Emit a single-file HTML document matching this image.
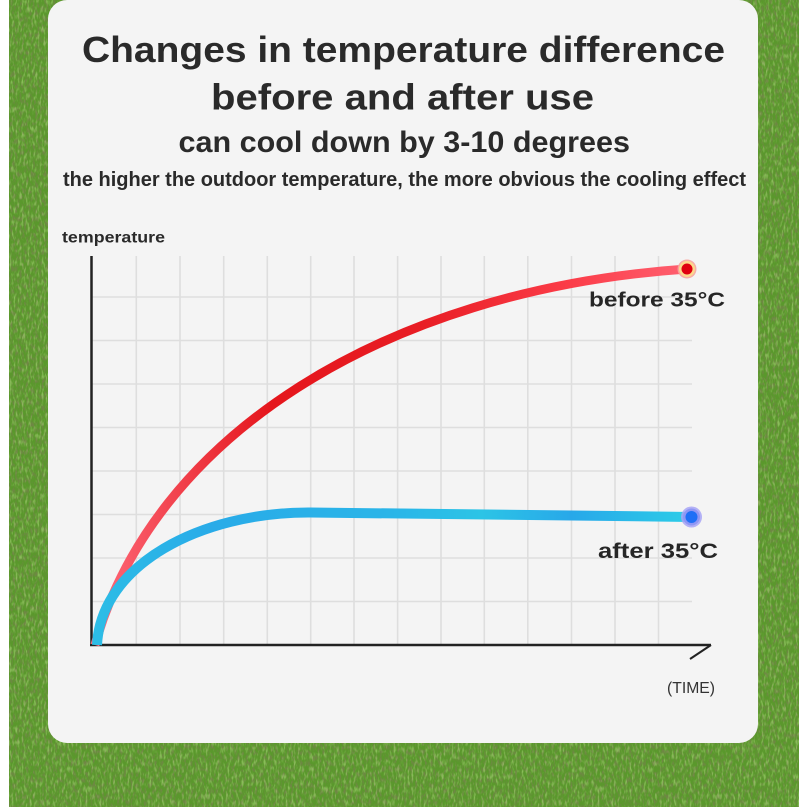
<!DOCTYPE html>
<html>
<head>
<meta charset="utf-8">
<style>
  html,body{margin:0;padding:0;background:#fff;}
  svg{display:block;}
  text{font-family:"Liberation Sans","DejaVu Sans",sans-serif;}
</style>
</head>
<body>
<svg width="807" height="807" viewBox="0 0 807 807" xmlns="http://www.w3.org/2000/svg">
  <defs>
    <filter id="dark" x="0" y="0" width="100%" height="100%">
      <feTurbulence type="fractalNoise" baseFrequency="0.45 0.18" numOctaves="3" seed="7" result="n"/>
      <feColorMatrix type="matrix" in="n" values="
        0 0 0 0 0.16
        0 0 0 0 0.24
        0 0 0 0 0.06
        -3.2 0 0 0 1.75" />
      <feComposite in2="SourceGraphic" operator="in"/>
    </filter>
    <filter id="light" x="0" y="0" width="100%" height="100%">
      <feTurbulence type="fractalNoise" baseFrequency="0.5 0.15" numOctaves="2" seed="19" result="n"/>
      <feColorMatrix type="matrix" in="n" values="
        0 0 0 0 0.48
        0 0 0 0 0.76
        0 0 0 0 0.24
        3.2 0 0 0 -1.55" />
      <feComposite in2="SourceGraphic" operator="in"/>
    </filter>
    <linearGradient id="redG" gradientUnits="userSpaceOnUse" x1="92" y1="0" x2="687" y2="0">
      <stop offset="0" stop-color="#ff6a7a"/>
      <stop offset="0.14" stop-color="#f2434e"/>
      <stop offset="0.3" stop-color="#e5161c"/>
      <stop offset="0.55" stop-color="#e81d24"/>
      <stop offset="0.8" stop-color="#fb3c48"/>
      <stop offset="1" stop-color="#ff6070"/>
    </linearGradient>
    <linearGradient id="blueG" gradientUnits="userSpaceOnUse" x1="92" y1="0" x2="691" y2="0">
      <stop offset="0" stop-color="#2cbde6"/>
      <stop offset="0.2" stop-color="#29abe8"/>
      <stop offset="0.5" stop-color="#2ab5e8"/>
      <stop offset="0.65" stop-color="#2cc4e6"/>
      <stop offset="0.8" stop-color="#28a8e9"/>
      <stop offset="1" stop-color="#2ccde8"/>
    </linearGradient>
  </defs>

  <!-- background -->
  <rect x="0" y="0" width="807" height="807" fill="#ffffff"/>
  <rect x="9" y="0" width="790" height="807" fill="#5a982c"/>
  <rect x="9" y="0" width="790" height="807" fill="#000" filter="url(#dark)"/>
  <rect x="9" y="0" width="790" height="807" fill="#000" filter="url(#light)" opacity="0.5"/>

  <!-- card -->
  <rect x="48" y="0" width="710" height="743" rx="19" ry="19" fill="#f4f4f4"/>

  <!-- titles -->
  <g fill="#2a2a2a" font-weight="bold">
    <text x="82" y="62" font-size="36" textLength="643" lengthAdjust="spacingAndGlyphs">Changes in temperature difference</text>
    <text x="211" y="109.5" font-size="36" textLength="383" lengthAdjust="spacingAndGlyphs">before and after use</text>
    <text x="178.5" y="152" font-size="30" textLength="451.5" lengthAdjust="spacingAndGlyphs">can cool down by 3-10 degrees</text>
    <text x="63" y="186" font-size="20" textLength="683" lengthAdjust="spacingAndGlyphs">the higher the outdoor temperature, the more obvious the cooling effect</text>
    <text x="62" y="242.5" font-size="16" textLength="103" lengthAdjust="spacingAndGlyphs">temperature</text>
  </g>

  <!-- grid -->
  <g stroke="#dedede" stroke-width="1.6">
    <line x1="92" y1="601.5" x2="692" y2="601.5"/>
    <line x1="92" y1="558" x2="692" y2="558"/>
    <line x1="92" y1="514.5" x2="692" y2="514.5"/>
    <line x1="92" y1="471" x2="692" y2="471"/>
    <line x1="92" y1="427.5" x2="692" y2="427.5"/>
    <line x1="92" y1="384" x2="692" y2="384"/>
    <line x1="92" y1="340.5" x2="692" y2="340.5"/>
    <line x1="92" y1="297" x2="692" y2="297"/>

    <line x1="136.3" y1="256" x2="136.3" y2="645"/>
    <line x1="180" y1="256" x2="180" y2="645"/>
    <line x1="223.7" y1="256" x2="223.7" y2="645"/>
    <line x1="267.3" y1="256" x2="267.3" y2="645"/>
    <line x1="310.7" y1="256" x2="310.7" y2="645"/>
    <line x1="354" y1="256" x2="354" y2="645"/>
    <line x1="397.6" y1="256" x2="397.6" y2="645"/>
    <line x1="441" y1="256" x2="441" y2="645"/>
    <line x1="484.3" y1="256" x2="484.3" y2="645"/>
    <line x1="527.8" y1="256" x2="527.8" y2="645"/>
    <line x1="571.5" y1="256" x2="571.5" y2="645"/>
    <line x1="615" y1="256" x2="615" y2="645"/>
    <line x1="658.5" y1="256" x2="658.5" y2="645"/>
  </g>

  <!-- axes -->
  <g stroke="#222" fill="none">
    <line x1="91.5" y1="256" x2="91.5" y2="646" stroke-width="2.5"/>
    <line x1="90" y1="645" x2="711" y2="645" stroke-width="2.5"/>
    <line x1="711" y1="645" x2="690" y2="659" stroke-width="2"/>
  </g>

  <!-- red curve -->
  <path fill="none" stroke="url(#redG)" stroke-width="9" stroke-linecap="butt"
    d="M95,645 C152,440 380,290 687,269"/>

  <!-- blue curve -->
  <path fill="none" stroke="url(#blueG)" stroke-width="10" stroke-linecap="butt"
    d="M97,645 C101,565 200,512 310,512.5 C400,512.7 550,515 691,517"/>

  <!-- red end marker -->
  <circle cx="687" cy="269" r="9.5" fill="#f8a5a0" opacity="0.9"/>
  <circle cx="687" cy="269" r="8" fill="#fbd98c"/>
  <circle cx="687" cy="269" r="5.5" fill="#e0000f"/>

  <!-- blue end marker -->
  <circle cx="691.5" cy="517" r="10.5" fill="#a7a4f6" opacity="0.85"/>
  <circle cx="691.5" cy="517" r="8.5" fill="#8f96f4"/>
  <circle cx="691.5" cy="517" r="6" fill="#1f6ff6"/>

  <!-- labels -->
  <g fill="#262626" font-weight="bold">
    <text x="589" y="306.5" font-size="20" textLength="136" lengthAdjust="spacingAndGlyphs">before 35°C</text>
    <text x="598" y="558" font-size="21" textLength="120" lengthAdjust="spacingAndGlyphs">after 35°C</text>
  </g>
  <text x="667" y="693" font-size="16" fill="#333" textLength="48" lengthAdjust="spacingAndGlyphs">(TIME)</text>
</svg>
</body>
</html>
